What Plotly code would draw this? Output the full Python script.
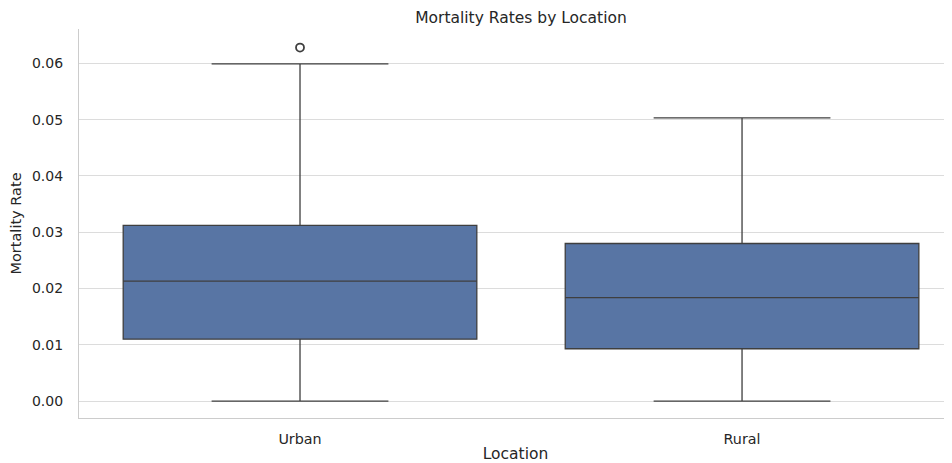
import plotly.graph_objects as go

categories = ["Urban", "Rural"]
q1 = [0.0110, 0.0093]
median = [0.0213, 0.0184]
q3 = [0.0312, 0.0280]
lower_whisker = [0.0, 0.0]
upper_whisker = [0.0599, 0.0503]
outlier_cat = ["Urban"]
outlier_val = [0.0628]

fill = "#5875a4"
edge = "#3f3f3f"
font = "DejaVu Sans"

W, H = 944, 455  # page adds an 8px body margin

fig = go.Figure()
fig.add_trace(go.Box(
    x=categories, q1=q1, median=median, q3=q3,
    lowerfence=lower_whisker, upperfence=upper_whisker,
    fillcolor=fill, line=dict(color=edge, width=1.3),
    whiskerwidth=0.5, boxpoints=False, width=0.8, showlegend=False,
))
fig.add_trace(go.Scatter(
    x=outlier_cat, y=outlier_val, mode="markers",
    marker=dict(symbol="circle-open", size=8, color=edge, line=dict(width=1.8, color=edge)),
    showlegend=False,
))

fig.update_layout(
    width=W, height=H,
    margin=dict(l=71, r=0, t=21, b=45, autoexpand=False),
    paper_bgcolor="white", plot_bgcolor="white",
    font=dict(family=font, color="#262626", size=14),
    title=dict(text="Mortality Rates by Location", x=513 / W, xanchor="center",
               y=1 - 10 / H, yanchor="middle", font=dict(size=15.5, color="#262626")),
    xaxis=dict(
        type="category", range=[-0.5, 1.475], showgrid=False, zeroline=False,
        showline=True, linecolor="#cccccc", linewidth=1.2, mirror=False, automargin=False,
        tickfont=dict(size=14.3, color="#262626"), ticks="", ticklabelstandoff=8,
        title=dict(text="Location", font=dict(size=15.5, color="#262626"), standoff=6),
    ),
    yaxis=dict(
        range=[-0.0030, 0.0661], tickvals=[0, 0.01, 0.02, 0.03, 0.04, 0.05, 0.06],
        ticktext=["0.00", "0.01", "0.02", "0.03", "0.04", "0.05", "0.06"],
        showgrid=True, gridcolor="#dcdcdc", gridwidth=1.1, zeroline=False, automargin=False,
        showline=True, linecolor="#cccccc", linewidth=1.2, mirror=True,
        tickfont=dict(size=14, color="#262626"), ticks="", ticklabelstandoff=12,
        title=dict(text="Mortality Rate", font=dict(size=14.5, color="#262626"), standoff=10),
    ),
)
fig.write_html("out.html")
